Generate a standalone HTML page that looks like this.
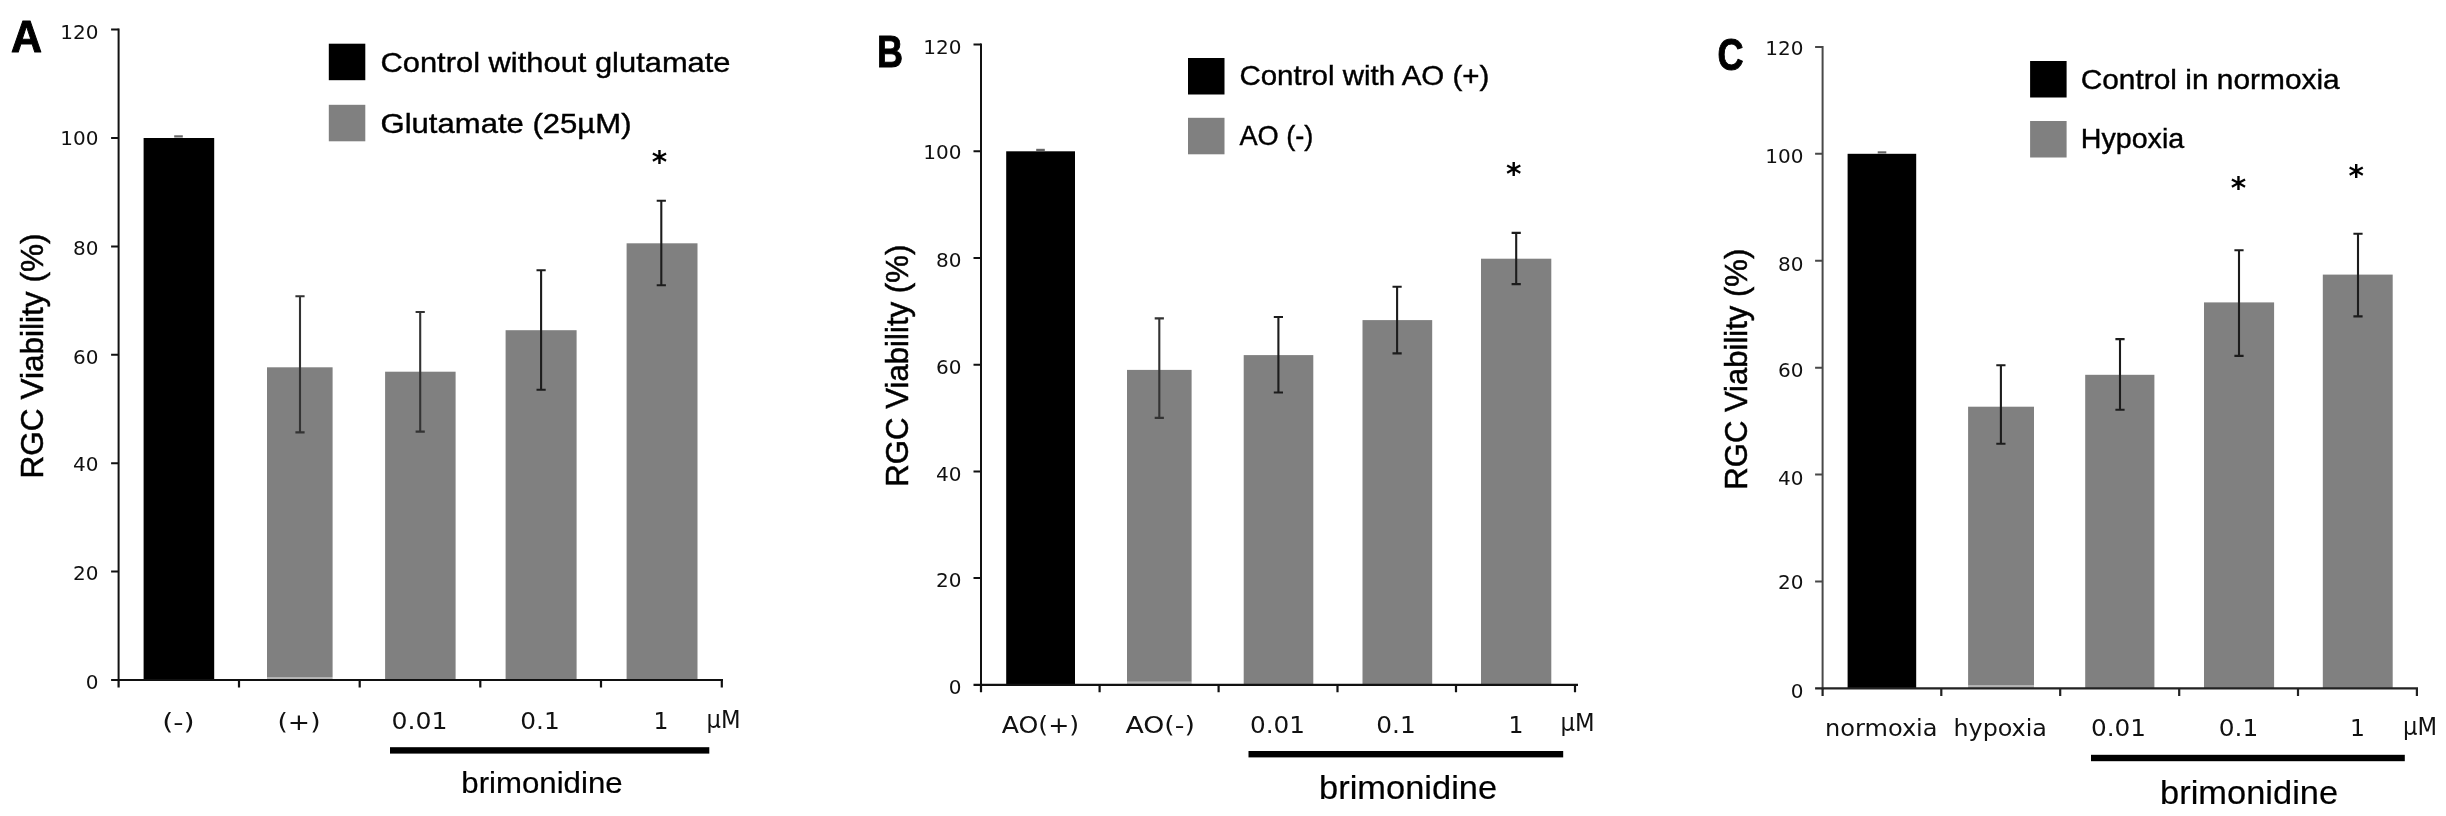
<!DOCTYPE html>
<html lang="en"><head><meta charset="utf-8"><title>RGC Viability</title>
<style>
html,body{margin:0;padding:0;background:#fff;}
body{width:2446px;height:816px;overflow:hidden;}
svg{display:block;filter:blur(0.5px);}
</style></head><body>
<svg width="2446" height="816" viewBox="0 0 2446 816">
<rect width="2446" height="816" fill="#fff"/>
<rect x="143.6" y="138" width="70.6" height="542" fill="#000"/>
<rect x="267" y="367.3" width="65.6" height="309.7" fill="#808080"/>
<rect x="267" y="677" width="65.6" height="3" fill="#b4b4b4"/>
<rect x="385.1" y="371.7" width="70.5" height="308.3" fill="#808080"/>
<rect x="505.6" y="330.2" width="71.0" height="349.8" fill="#808080"/>
<rect x="626.6" y="243.3" width="70.9" height="436.7" fill="#808080"/>
<rect x="174.2" y="135.3" width="8.6" height="2.2" fill="#666"/>
<path d="M300 296.3V432.4M295.4 296.3H304.6M295.4 432.4H304.6" stroke="#333" stroke-width="2.1" fill="none"/>
<path d="M420.2 312V431.6M415.59999999999997 312H424.8M415.59999999999997 431.6H424.8" stroke="#333" stroke-width="2.1" fill="none"/>
<path d="M541.1 270.3V389.8M536.5 270.3H545.7M536.5 389.8H545.7" stroke="#1c1c1c" stroke-width="2.1" fill="none"/>
<path d="M661.3 200.7V285.2M656.6999999999999 200.7H665.9M656.6999999999999 285.2H665.9" stroke="#1c1c1c" stroke-width="2.1" fill="none"/>
<path d="M118.6 28.6V681.0" stroke="#111" stroke-width="2" fill="none"/>
<path d="M111.1 680H723" stroke="#111" stroke-width="2.2" fill="none"/>
<path d="M111.1 571.6H118.6M111.1 463.2H118.6M111.1 354.8H118.6M111.1 246.4H118.6M111.1 138.0H118.6M111.1 29.6H118.6" stroke="#111" stroke-width="2" fill="none"/>
<path d="M118.6 680V687.5M239 680V687.5M359.7 680V687.5M480.3 680V687.5M601 680V687.5M721.8 680V687.5" stroke="#111" stroke-width="2.2" fill="none"/>
<text x="98.5" y="688.9" font-size="20" font-family='"DejaVu Sans", "Liberation Sans", sans-serif' text-anchor="end" font-weight="normal" fill="#111" >0</text>
<text x="98.5" y="580.3" font-size="20" font-family='"DejaVu Sans", "Liberation Sans", sans-serif' text-anchor="end" font-weight="normal" fill="#111" >20</text>
<text x="98.5" y="470.9" font-size="20" font-family='"DejaVu Sans", "Liberation Sans", sans-serif' text-anchor="end" font-weight="normal" fill="#111" >40</text>
<text x="98.5" y="364.4" font-size="20" font-family='"DejaVu Sans", "Liberation Sans", sans-serif' text-anchor="end" font-weight="normal" fill="#111" >60</text>
<text x="98.5" y="255.3" font-size="20" font-family='"DejaVu Sans", "Liberation Sans", sans-serif' text-anchor="end" font-weight="normal" fill="#111" >80</text>
<text x="98.5" y="145.4" font-size="20" font-family='"DejaVu Sans", "Liberation Sans", sans-serif' text-anchor="end" font-weight="normal" fill="#111" >100</text>
<text x="98.5" y="39.2" font-size="20" font-family='"DejaVu Sans", "Liberation Sans", sans-serif' text-anchor="end" font-weight="normal" fill="#111" >120</text>
<text transform="translate(42.8 356) rotate(-90)" font-size="32" font-family='"Liberation Sans", Arial, sans-serif' text-anchor="middle" textLength="245" lengthAdjust="spacingAndGlyphs" stroke="#000" stroke-width="0.5">RGC Viability (%)</text>
<text x="11" y="52" font-size="45" font-family='"Liberation Sans", Arial, sans-serif' text-anchor="start" font-weight="bold" fill="#000" textLength="31" lengthAdjust="spacingAndGlyphs" stroke="#000" stroke-width="1" stroke-linejoin="round">A</text>
<rect x="328.8" y="43.7" width="36.5" height="36.5" fill="#000"/>
<rect x="328.8" y="104.8" width="36.5" height="36.5" fill="#808080"/>
<text x="380.5" y="71.6" font-size="28.5" font-family='"Liberation Sans", Arial, sans-serif' text-anchor="start" font-weight="normal" fill="#000" textLength="350" lengthAdjust="spacingAndGlyphs" stroke="#000" stroke-width="0.4">Control without glutamate</text>
<text x="380.5" y="132.8" font-size="28.5" font-family='"Liberation Sans", Arial, sans-serif' text-anchor="start" font-weight="normal" fill="#000" textLength="251" lengthAdjust="spacingAndGlyphs" stroke="#000" stroke-width="0.4">Glutamate (25µM)</text>
<text x="659.5" y="171.7" font-size="29.5" font-family='"DejaVu Sans", "Liberation Sans", sans-serif' text-anchor="middle" font-weight="bold" fill="#000" >*</text>
<text x="178.4" y="729.5" font-size="23.5" font-family='"DejaVu Sans", "Liberation Sans", sans-serif' text-anchor="middle" font-weight="normal" fill="#111" textLength="32.5" lengthAdjust="spacingAndGlyphs" >(-)</text>
<text x="299" y="729.5" font-size="23.5" font-family='"DejaVu Sans", "Liberation Sans", sans-serif' text-anchor="middle" font-weight="normal" fill="#111" textLength="43" lengthAdjust="spacingAndGlyphs" >(+)</text>
<text x="419.5" y="728.7" font-size="23.5" font-family='"DejaVu Sans", "Liberation Sans", sans-serif' text-anchor="middle" font-weight="normal" fill="#111" textLength="56" lengthAdjust="spacingAndGlyphs" >0.01</text>
<text x="540" y="728.7" font-size="23.5" font-family='"DejaVu Sans", "Liberation Sans", sans-serif' text-anchor="middle" font-weight="normal" fill="#111" textLength="39.5" lengthAdjust="spacingAndGlyphs" >0.1</text>
<text x="661" y="728.7" font-size="23.5" font-family='"DejaVu Sans", "Liberation Sans", sans-serif' text-anchor="middle" font-weight="normal" fill="#111" >1</text>
<text x="706.5" y="727.7" font-size="24" font-family='"DejaVu Sans", "Liberation Sans", sans-serif' text-anchor="start" font-weight="normal" fill="#111" textLength="34" lengthAdjust="spacingAndGlyphs" >µM</text>
<rect x="390" y="747.1999999999999" width="319.3" height="6.4" fill="#000"/>
<text x="461.3" y="792.5" font-size="30" font-family='"Liberation Sans", Arial, sans-serif' text-anchor="start" font-weight="normal" fill="#000" textLength="161.3" lengthAdjust="spacingAndGlyphs" stroke="#000" stroke-width="0.2">brimonidine</text>
<rect x="1006.2" y="151.3" width="68.8" height="533.5" fill="#000"/>
<rect x="1127" y="369.9" width="64.6" height="311.9" fill="#808080"/>
<rect x="1127" y="681.8" width="64.6" height="3.0" fill="#b4b4b4"/>
<rect x="1243.7" y="355.1" width="69.6" height="329.7" fill="#808080"/>
<rect x="1362.5" y="320.1" width="69.7" height="364.7" fill="#808080"/>
<rect x="1481" y="258.7" width="70.3" height="426.1" fill="#808080"/>
<rect x="1036.2" y="148.8" width="8.6" height="2.2" fill="#666"/>
<path d="M1159.3 318.4V417.9M1154.7 318.4H1163.8999999999999M1154.7 417.9H1163.8999999999999" stroke="#333" stroke-width="2.1" fill="none"/>
<path d="M1278.4 317V392.5M1273.8000000000002 317H1283.0M1273.8000000000002 392.5H1283.0" stroke="#1c1c1c" stroke-width="2.1" fill="none"/>
<path d="M1397.1 286.8V353.4M1392.5 286.8H1401.6999999999998M1392.5 353.4H1401.6999999999998" stroke="#1c1c1c" stroke-width="2.1" fill="none"/>
<path d="M1516.2 232.9V284.1M1511.6000000000001 232.9H1520.8M1511.6000000000001 284.1H1520.8" stroke="#1c1c1c" stroke-width="2.1" fill="none"/>
<path d="M981 43.6V685.8" stroke="#111" stroke-width="2" fill="none"/>
<path d="M973.5 684.8H1578" stroke="#111" stroke-width="2.2" fill="none"/>
<path d="M973.5 578.1H981M973.5 471.4H981M973.5 364.7H981M973.5 258.0H981M973.5 151.3H981M973.5 44.6H981" stroke="#111" stroke-width="2" fill="none"/>
<path d="M981 684.8V692.3M1099.6 684.8V692.3M1218.6 684.8V692.3M1337.5 684.8V692.3M1456 684.8V692.3M1575 684.8V692.3" stroke="#111" stroke-width="2.2" fill="none"/>
<text x="961.5" y="693.5" font-size="20" font-family='"DejaVu Sans", "Liberation Sans", sans-serif' text-anchor="end" font-weight="normal" fill="#111" >0</text>
<text x="961.5" y="586.8" font-size="20" font-family='"DejaVu Sans", "Liberation Sans", sans-serif' text-anchor="end" font-weight="normal" fill="#111" >20</text>
<text x="961.5" y="480.9" font-size="20" font-family='"DejaVu Sans", "Liberation Sans", sans-serif' text-anchor="end" font-weight="normal" fill="#111" >40</text>
<text x="961.5" y="374.4" font-size="20" font-family='"DejaVu Sans", "Liberation Sans", sans-serif' text-anchor="end" font-weight="normal" fill="#111" >60</text>
<text x="961.5" y="266.7" font-size="20" font-family='"DejaVu Sans", "Liberation Sans", sans-serif' text-anchor="end" font-weight="normal" fill="#111" >80</text>
<text x="961.5" y="158.7" font-size="20" font-family='"DejaVu Sans", "Liberation Sans", sans-serif' text-anchor="end" font-weight="normal" fill="#111" >100</text>
<text x="961.5" y="54.3" font-size="20" font-family='"DejaVu Sans", "Liberation Sans", sans-serif' text-anchor="end" font-weight="normal" fill="#111" >120</text>
<text transform="translate(907.5 365.7) rotate(-90)" font-size="32" font-family='"Liberation Sans", Arial, sans-serif' text-anchor="middle" textLength="242" lengthAdjust="spacingAndGlyphs" stroke="#000" stroke-width="0.5">RGC Viability (%)</text>
<text x="877" y="67" font-size="45" font-family='"Liberation Sans", Arial, sans-serif' text-anchor="start" font-weight="bold" fill="#000" textLength="26" lengthAdjust="spacingAndGlyphs" stroke="#000" stroke-width="1" stroke-linejoin="round">B</text>
<rect x="1188" y="58" width="36.5" height="36.5" fill="#000"/>
<rect x="1188" y="117.8" width="36.5" height="36.5" fill="#808080"/>
<text x="1239.4" y="85.3" font-size="28.5" font-family='"Liberation Sans", Arial, sans-serif' text-anchor="start" font-weight="normal" fill="#000" textLength="250" lengthAdjust="spacingAndGlyphs" stroke="#000" stroke-width="0.4">Control with AO (+)</text>
<text x="1239.4" y="144.7" font-size="28.5" font-family='"Liberation Sans", Arial, sans-serif' text-anchor="start" font-weight="normal" fill="#000" textLength="74" lengthAdjust="spacingAndGlyphs" stroke="#000" stroke-width="0.4">AO (-)</text>
<text x="1513.8" y="184.2" font-size="29.5" font-family='"DejaVu Sans", "Liberation Sans", sans-serif' text-anchor="middle" font-weight="bold" fill="#000" >*</text>
<text x="1040.4" y="733.4" font-size="23.5" font-family='"DejaVu Sans", "Liberation Sans", sans-serif' text-anchor="middle" font-weight="normal" fill="#111" textLength="77.5" lengthAdjust="spacingAndGlyphs" >AO(+)</text>
<text x="1160.2" y="733.4" font-size="23.5" font-family='"DejaVu Sans", "Liberation Sans", sans-serif' text-anchor="middle" font-weight="normal" fill="#111" textLength="69.5" lengthAdjust="spacingAndGlyphs" >AO(-)</text>
<text x="1277.5" y="733" font-size="23.5" font-family='"DejaVu Sans", "Liberation Sans", sans-serif' text-anchor="middle" font-weight="normal" fill="#111" textLength="55" lengthAdjust="spacingAndGlyphs" >0.01</text>
<text x="1396" y="733" font-size="23.5" font-family='"DejaVu Sans", "Liberation Sans", sans-serif' text-anchor="middle" font-weight="normal" fill="#111" textLength="39.5" lengthAdjust="spacingAndGlyphs" >0.1</text>
<text x="1516" y="733" font-size="23.5" font-family='"DejaVu Sans", "Liberation Sans", sans-serif' text-anchor="middle" font-weight="normal" fill="#111" >1</text>
<text x="1560.5" y="731" font-size="24" font-family='"DejaVu Sans", "Liberation Sans", sans-serif' text-anchor="start" font-weight="normal" fill="#111" textLength="34" lengthAdjust="spacingAndGlyphs" >µM</text>
<rect x="1248.5" y="751.0" width="314.7" height="6.4" fill="#000"/>
<text x="1319.1" y="798.8" font-size="33" font-family='"Liberation Sans", Arial, sans-serif' text-anchor="start" font-weight="normal" fill="#000" textLength="178" lengthAdjust="spacingAndGlyphs" stroke="#000" stroke-width="0.2">brimonidine</text>
<rect x="1847.6" y="153.8" width="68.6" height="534.6" fill="#000"/>
<rect x="1968.1" y="406.7" width="65.9" height="278.9" fill="#808080"/>
<rect x="1968.1" y="685.6" width="65.9" height="2.8" fill="#b4b4b4"/>
<rect x="2085.2" y="374.8" width="69.2" height="313.6" fill="#808080"/>
<rect x="2204" y="302.4" width="70.1" height="386.0" fill="#808080"/>
<rect x="2322.8" y="274.6" width="69.9" height="413.8" fill="#808080"/>
<rect x="1877.7" y="151.3" width="8.6" height="2.2" fill="#666"/>
<path d="M2000.9 365.2V443.7M1996.3000000000002 365.2H2005.5M1996.3000000000002 443.7H2005.5" stroke="#1c1c1c" stroke-width="2.1" fill="none"/>
<path d="M2120 339.1V409.8M2115.4 339.1H2124.6M2115.4 409.8H2124.6" stroke="#1c1c1c" stroke-width="2.1" fill="none"/>
<path d="M2239 250.2V355.9M2234.4 250.2H2243.6M2234.4 355.9H2243.6" stroke="#1c1c1c" stroke-width="2.1" fill="none"/>
<path d="M2358 233.7V316.4M2353.4 233.7H2362.6M2353.4 316.4H2362.6" stroke="#1c1c1c" stroke-width="2.1" fill="none"/>
<path d="M1822.6 45.88V689.4" stroke="#484848" stroke-width="2" fill="none"/>
<path d="M1815.1 688.4H2418" stroke="#222" stroke-width="2.2" fill="none"/>
<path d="M1815.1 581.48H1822.6M1815.1 474.56H1822.6M1815.1 367.64H1822.6M1815.1 260.72H1822.6M1815.1 153.8H1822.6M1815.1 46.88H1822.6" stroke="#484848" stroke-width="2" fill="none"/>
<path d="M1822.6 688.4V695.9M1941.3 688.4V695.9M2060.2 688.4V695.9M2179.2 688.4V695.9M2298 688.4V695.9M2416.9 688.4V695.9" stroke="#222" stroke-width="2.2" fill="none"/>
<text x="1803.5" y="698.1" font-size="20" font-family='"DejaVu Sans", "Liberation Sans", sans-serif' text-anchor="end" font-weight="normal" fill="#111" >0</text>
<text x="1803.5" y="589.28" font-size="20" font-family='"DejaVu Sans", "Liberation Sans", sans-serif' text-anchor="end" font-weight="normal" fill="#111" >20</text>
<text x="1803.5" y="484.86" font-size="20" font-family='"DejaVu Sans", "Liberation Sans", sans-serif' text-anchor="end" font-weight="normal" fill="#111" >40</text>
<text x="1803.5" y="377.04" font-size="20" font-family='"DejaVu Sans", "Liberation Sans", sans-serif' text-anchor="end" font-weight="normal" fill="#111" >60</text>
<text x="1803.5" y="271.02" font-size="20" font-family='"DejaVu Sans", "Liberation Sans", sans-serif' text-anchor="end" font-weight="normal" fill="#111" >80</text>
<text x="1803.5" y="163.1" font-size="20" font-family='"DejaVu Sans", "Liberation Sans", sans-serif' text-anchor="end" font-weight="normal" fill="#111" >100</text>
<text x="1803.5" y="55.08" font-size="20" font-family='"DejaVu Sans", "Liberation Sans", sans-serif' text-anchor="end" font-weight="normal" fill="#111" >120</text>
<text transform="translate(1746.5 369.2) rotate(-90)" font-size="32" font-family='"Liberation Sans", Arial, sans-serif' text-anchor="middle" textLength="241" lengthAdjust="spacingAndGlyphs" stroke="#000" stroke-width="0.5">RGC Viability (%)</text>
<text x="1717.5" y="70" font-size="45" font-family='"Liberation Sans", Arial, sans-serif' text-anchor="start" font-weight="bold" fill="#000" textLength="26" lengthAdjust="spacingAndGlyphs" stroke="#000" stroke-width="1" stroke-linejoin="round">C</text>
<rect x="2030.1" y="61" width="36.5" height="36.5" fill="#000"/>
<rect x="2030.1" y="121" width="36.5" height="36.5" fill="#808080"/>
<text x="2080.7" y="88.8" font-size="28.5" font-family='"Liberation Sans", Arial, sans-serif' text-anchor="start" font-weight="normal" fill="#000" textLength="259" lengthAdjust="spacingAndGlyphs" stroke="#000" stroke-width="0.4">Control in normoxia</text>
<text x="2080.7" y="148.2" font-size="28.5" font-family='"Liberation Sans", Arial, sans-serif' text-anchor="start" font-weight="normal" fill="#000" textLength="103.5" lengthAdjust="spacingAndGlyphs" stroke="#000" stroke-width="0.4">Hypoxia</text>
<text x="2238.5" y="198" font-size="29.5" font-family='"DejaVu Sans", "Liberation Sans", sans-serif' text-anchor="middle" font-weight="bold" fill="#000" >*</text>
<text x="2356.1" y="186" font-size="29.5" font-family='"DejaVu Sans", "Liberation Sans", sans-serif' text-anchor="middle" font-weight="bold" fill="#000" >*</text>
<text x="1881.3" y="736.3" font-size="23.5" font-family='"DejaVu Sans", "Liberation Sans", sans-serif' text-anchor="middle" font-weight="normal" fill="#111" textLength="112.5" lengthAdjust="spacingAndGlyphs" >normoxia</text>
<text x="2000.2" y="736.3" font-size="23.5" font-family='"DejaVu Sans", "Liberation Sans", sans-serif' text-anchor="middle" font-weight="normal" fill="#111" textLength="93.5" lengthAdjust="spacingAndGlyphs" >hypoxia</text>
<text x="2118.5" y="736.3" font-size="23.5" font-family='"DejaVu Sans", "Liberation Sans", sans-serif' text-anchor="middle" font-weight="normal" fill="#111" textLength="55" lengthAdjust="spacingAndGlyphs" >0.01</text>
<text x="2238.5" y="736.3" font-size="23.5" font-family='"DejaVu Sans", "Liberation Sans", sans-serif' text-anchor="middle" font-weight="normal" fill="#111" textLength="39.5" lengthAdjust="spacingAndGlyphs" >0.1</text>
<text x="2357.5" y="736.3" font-size="23.5" font-family='"DejaVu Sans", "Liberation Sans", sans-serif' text-anchor="middle" font-weight="normal" fill="#111" >1</text>
<text x="2403" y="734.8" font-size="24" font-family='"DejaVu Sans", "Liberation Sans", sans-serif' text-anchor="start" font-weight="normal" fill="#111" textLength="34" lengthAdjust="spacingAndGlyphs" >µM</text>
<rect x="2091" y="754.8" width="313.8" height="6.4" fill="#000"/>
<text x="2160.1" y="803.9" font-size="33" font-family='"Liberation Sans", Arial, sans-serif' text-anchor="start" font-weight="normal" fill="#000" textLength="178" lengthAdjust="spacingAndGlyphs" stroke="#000" stroke-width="0.2">brimonidine</text>
</svg>
</body></html>
